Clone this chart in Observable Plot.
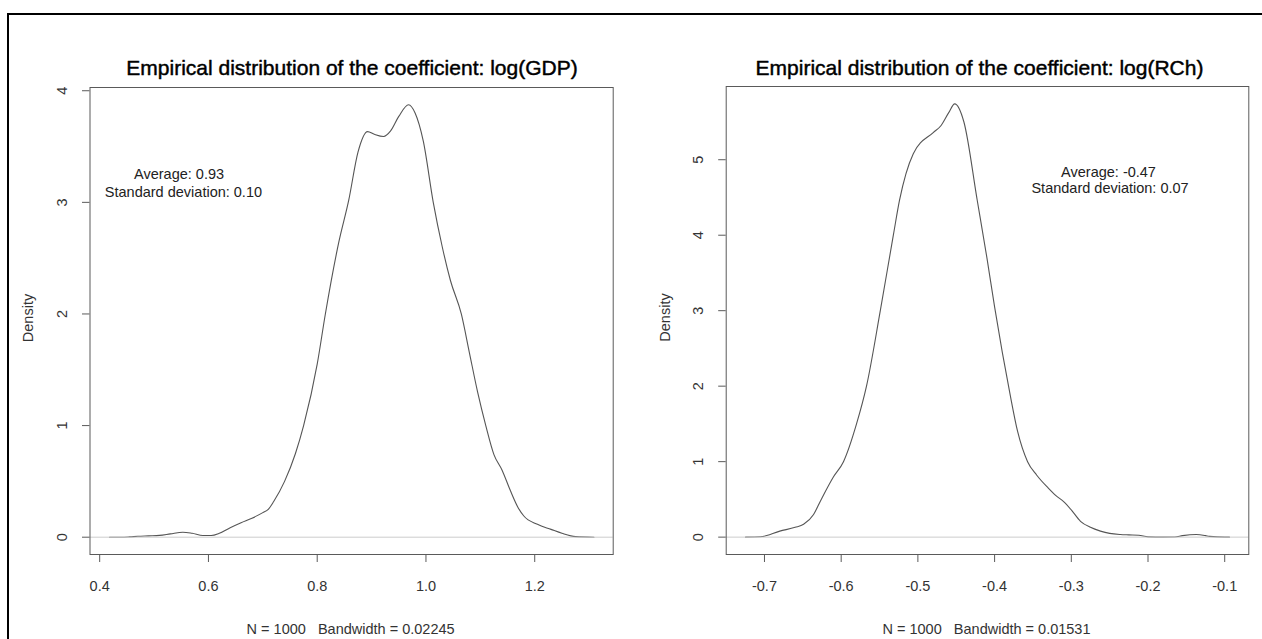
<!DOCTYPE html>
<html><head><meta charset="utf-8">
<script src="https://cdn.jsdelivr.net/npm/d3@7"></script>
<script src="https://cdn.jsdelivr.net/npm/@observablehq/plot@0.6"></script>
<style>
html,body{margin:0;padding:0;background:#fff;overflow:hidden;}
#wrap{position:relative;width:1262px;height:639px;overflow:hidden;background:#fff;}
#border{position:absolute;left:7px;top:13px;width:1400px;height:800px;border-left:2px solid #000;border-top:2px solid #000;}
.panel{position:absolute;top:0;width:631px;height:639px;}
</style></head><body>
<div id="wrap"><div id="border"></div><div id="p1" class="panel" style="left:0"></div><div id="p2" class="panel" style="left:631px"></div></div>
<script>
// ---- Left panel: log(GDP) ----
const titleLeft = "Empirical distribution of the coefficient: log(GDP)";
const subLeft = "N = 1000   Bandwidth = 0.02245";
const xLeft = [0.418, 0.44, 0.455, 0.47, 0.49, 0.51, 0.53, 0.553, 0.57, 0.59, 0.605, 0.62, 0.64, 0.66, 0.68, 0.70, 0.71, 0.72, 0.74, 0.76, 0.775, 0.80, 0.815, 0.84, 0.858, 0.875, 0.8926, 0.905, 0.922, 0.935, 0.95, 0.968, 0.98, 0.995, 1.0134, 1.03, 1.045, 1.065, 1.08, 1.095, 1.11, 1.125, 1.14, 1.155, 1.17, 1.18, 1.205, 1.23, 1.25, 1.275, 1.309];
const dLeft = [0, 0, 0.003, 0.008, 0.012, 0.016, 0.03, 0.045, 0.035, 0.015, 0.015, 0.035, 0.085, 0.13, 0.17, 0.22, 0.25, 0.32, 0.5, 0.75, 1.0, 1.55, 2.0, 2.65, 3.02, 3.45, 3.634, 3.61, 3.59, 3.64, 3.77, 3.874, 3.8, 3.55, 3.0, 2.6, 2.3, 2.0, 1.65, 1.3, 1.0, 0.74, 0.6, 0.42, 0.26, 0.19, 0.115, 0.07, 0.035, 0.005, 0];
const xTicksLeft = [0.4, 0.6, 0.8, 1.0, 1.2];
const xTickLabelsLeft = ["0.4", "0.6", "0.8", "1.0", "1.2"];
const yTicksLeft = [0, 1, 2, 3, 4];
const yTickLabelsLeft = ["0", "1", "2", "3", "4"];
const annotLeftText = ["Average: 0.93", "Standard deviation: 0.10"];
const annotLeftX = [0.546, 0.554];
const annotLeftY = [3.25, 3.09];
const xDomainLeft = [0.3822, 1.3443];
const yDomainLeft = [-0.155, 4.029];

// ---- Right panel: log(RCh) ----
const titleRight = "Empirical distribution of the coefficient: log(RCh)";
const subRight = "N = 1000   Bandwidth = 0.01531";
const xRight = [-0.7247, -0.705, -0.68, -0.66, -0.649, -0.636, -0.627, -0.61, -0.597, -0.58, -0.567, -0.549, -0.532, -0.524, -0.506, -0.48, -0.47, -0.46, -0.452, -0.44, -0.4226, -0.41, -0.40, -0.39, -0.38, -0.37, -0.357, -0.345, -0.33, -0.32, -0.31, -0.30, -0.288, -0.275, -0.262, -0.25, -0.236, -0.225, -0.212, -0.2, -0.18, -0.165, -0.155, -0.137, -0.125, -0.12, -0.1, -0.0938];
const dRight = [0, 0.005, 0.08, 0.13, 0.17, 0.3, 0.48, 0.8, 1.0, 1.5, 2.0, 3.0, 4.0, 4.46, 5.08, 5.36, 5.45, 5.62, 5.74, 5.5, 4.46, 3.7, 3.05, 2.45, 1.9, 1.4, 1.0, 0.82, 0.65, 0.55, 0.47, 0.36, 0.21, 0.13, 0.08, 0.05, 0.035, 0.03, 0.025, 0.003, 0, 0.002, 0.02, 0.035, 0.02, 0.01, 0, 0];
const xTicksRight = [-0.7, -0.6, -0.5, -0.4, -0.3, -0.2, -0.1];
const xTickLabelsRight = ["-0.7", "-0.6", "-0.5", "-0.4", "-0.3", "-0.2", "-0.1"];
const yTicksRight = [0, 1, 2, 3, 4, 5];
const yTickLabelsRight = ["0", "1", "2", "3", "4", "5"];
const annotRightText = ["Average: -0.47", "Standard deviation: 0.07"];
const annotRightX = [-0.2515, -0.2495];
const annotRightY = [4.834, 4.618];
const xDomainRight = [-0.7499, -0.0686];
const yDomainRight = [-0.23, 5.97];

const FONT = "'Liberation Sans', Arial, Helvetica, sans-serif";

function panel(cfg) {
  const pts = cfg.xs.map((x, i) => ({x, d: cfg.ds[i]}));
  const ann = cfg.annText.map((t, i) => ({t, x: cfg.annX[i], y: cfg.annY[i]}));
  return Plot.plot({
    width: 631, height: 639,
    marginLeft: cfg.ml, marginRight: cfg.mr, marginTop: cfg.mt, marginBottom: cfg.mb,
    x: {domain: cfg.xDomain},
    y: {domain: cfg.yDomain},
    style: {fontFamily: FONT, fontSize: "14.5px", color: "#333", background: "transparent", overflow: "visible"},
    marks: [
      Plot.line(pts, {x: "x", y: "d", stroke: "#555", strokeWidth: 1.1, curve: "monotone-x"}),
      Plot.ruleY([0], {stroke: "#cccccc", strokeWidth: 1}),
      Plot.frame({stroke: "#5a5a5a", strokeWidth: 1}),
      Plot.axisX(cfg.xTicks, {tickSize: 8, tickPadding: 18, stroke: "#5a5a5a", fill: "#333",
        tickFormat: d => cfg.xLabels[cfg.xTicks.indexOf(d)], label: null}),
      Plot.axisY(cfg.yTicks, {tickSize: 7.5, stroke: "#5a5a5a", fill: "none", label: null}),
      Plot.text(cfg.yTicks, {y: d => d, text: d => cfg.yLabels[cfg.yTicks.indexOf(d)], frameAnchor: "left",
        dx: -27.5, rotate: -90, textAnchor: "middle", lineAnchor: "middle", fill: "#333"}),
      Plot.text(["Density"], {frameAnchor: "left", dx: cfg.ylabDx, dy: -3, rotate: -90, textAnchor: "middle", lineAnchor: "middle", fill: "#333"}),
      Plot.text([cfg.title], {frameAnchor: "top", dx: cfg.titleDx, dy: cfg.titleDy, lineAnchor: "bottom",
        fontSize: 21, fontWeight: "normal", fill: "#000", stroke: "#000", strokeWidth: 0.45}),
      Plot.text([cfg.sub], {frameAnchor: "bottom", dx: -1, dy: 79, lineAnchor: "bottom", fill: "#333"}),
      Plot.text(ann, {x: "x", y: "y", text: "t", textAnchor: "middle", lineAnchor: "middle", fill: "#222"})
    ]
  });
}

document.getElementById("p1").appendChild(panel({
  xs: xLeft, ds: dLeft, xTicks: xTicksLeft, xLabels: xTickLabelsLeft, yTicks: yTicksLeft, yLabels: yTickLabelsLeft,
  annText: annotLeftText, annX: annotLeftX, annY: annotLeftY, xDomain: xDomainLeft, yDomain: yDomainLeft,
  title: titleLeft, sub: subLeft, ml: 89.5, mr: 18.3, mt: 87, mb: 85, titleDx: 0.4, titleDy: -13, ylabDx: -61.5
}));
document.getElementById("p2").appendChild(panel({
  xs: xRight, ds: dRight, xTicks: xTicksRight, xLabels: xTickLabelsRight, yTicks: yTicksRight, yLabels: yTickLabelsRight,
  annText: annotRightText, annX: annotRightX, annY: annotRightY, xDomain: xDomainRight, yDomain: yDomainRight,
  title: titleRight, sub: subRight, ml: 94.7, mr: 13.7, mt: 86, mb: 85, titleDx: -8, titleDy: -12, ylabDx: -60.7
}));
</script>
</body></html>
